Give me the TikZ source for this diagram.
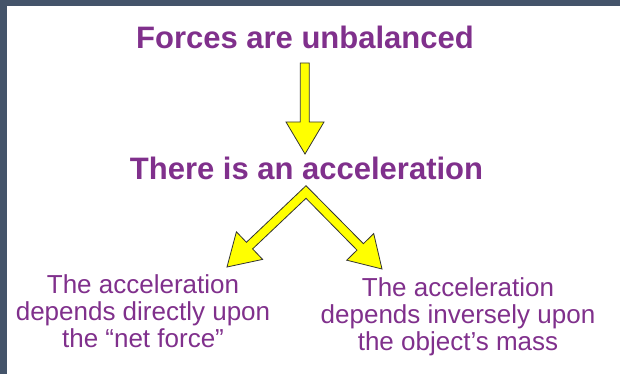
\documentclass[tikz,border=0pt]{standalone}
\usepackage{fontspec}
\setmainfont{Liberation Sans}
\definecolor{frame}{RGB}{68,84,106}
\definecolor{txtpurple}{RGB}{128,48,140}
\definecolor{arrowyellow}{RGB}{255,255,0}
\tikzset{
  headline/.style={text=txtpurple, font=\fontsize{31}{34}\selectfont\bfseries, inner sep=0pt, anchor=base},
  bodytext/.style={text=txtpurple, font=\fontsize{26}{27}\selectfont, align=center, inner sep=0pt, anchor=base},
  blockarrow/.style={fill=arrowyellow, draw=black!80, line width=0.8pt, line join=miter}
}
\begin{document}
\begin{tikzpicture}[x=1pt,y=-1pt]
\useasboundingbox (0,0) rectangle (620,374);
\fill[frame] (0,0) rectangle (620,374);
\fill[white] (6.5,6) rectangle (620,374);

\node[headline] (forces) at (305,48.5) {Forces are unbalanced};
\node[headline] (accel) at (306.5,179.5) {There is an acceleration};
\node[bodytext] (direct) at (143,347) {The acceleration\\depends directly upon\\the “net force”};
\node[bodytext] (inverse) at (458,350) {The acceleration\\depends inversely upon\\the object’s mass};

% down block arrow
\draw[blockarrow] (300.3,63) -- (309.3,63) -- (309.3,122) -- (324,122) -- (305,154)
  -- (286,122) -- (300.3,122) -- cycle;

% bent (chevron) block arrow
\draw[blockarrow] (306,185.7) -- (363.4,243.7) -- (373.7,233.6) -- (382,269)
  -- (346.7,260.2) -- (357.0,250.1) -- (306,198.3) -- (252.6,248.9)
  -- (262.6,259.4) -- (227,267) -- (236.4,231.8) -- (246.4,242.3) -- cycle;
\end{tikzpicture}
\end{document}
